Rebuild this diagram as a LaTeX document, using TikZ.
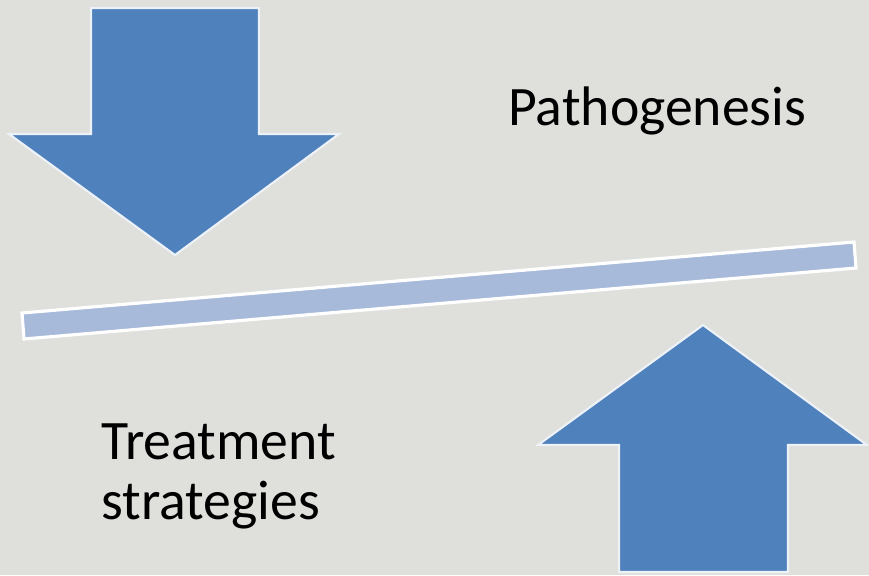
\documentclass[tikz,border=0pt]{standalone}
\usepackage{fontspec}
\setmainfont{Carlito}
\usetikzlibrary{calc,positioning}
\definecolor{paper}{RGB}{223,223,220}
\definecolor{arrowblue}{RGB}{79,129,189}
\definecolor{beamblue}{RGB}{168,186,218}

\begin{document}
\begin{tikzpicture}[x=0.02cm, y=-0.02cm,
    bigarrow/.style={fill=arrowblue, draw=white!90!arrowblue, line width=1.2pt, line join=miter},
    beam/.style={fill=beamblue, draw=white, line width=1.8pt},
    tag/.style={inner sep=0pt, anchor=base west, text=black,
      font=\fontsize{31.7pt}{38pt}\selectfont}]
  \useasboundingbox[fill=paper] (0,0) rectangle (869,575);

  \filldraw[bigarrow] (91,8) -- (259,8) -- (259,134) -- (339,134)
    -- (175,255) -- (9,134) -- (91,134) -- cycle;
  \filldraw[bigarrow] (619,572) -- (619,445) -- (538,445) -- (703,325)
    -- (867,445) -- (788,445) -- (788,572) -- cycle;

  \filldraw[beam] (22,313) -- (854,242) -- (856,268) -- (24,339) -- cycle;

  \node[tag] (patho) at (508,125) {Pathogenesis};
  \node[tag] (treat) at (101,459) {Treatment};
  \node[tag] (strat) at ([yshift=-1.22cm]treat.base west) {strategies};
\end{tikzpicture}
\end{document}
